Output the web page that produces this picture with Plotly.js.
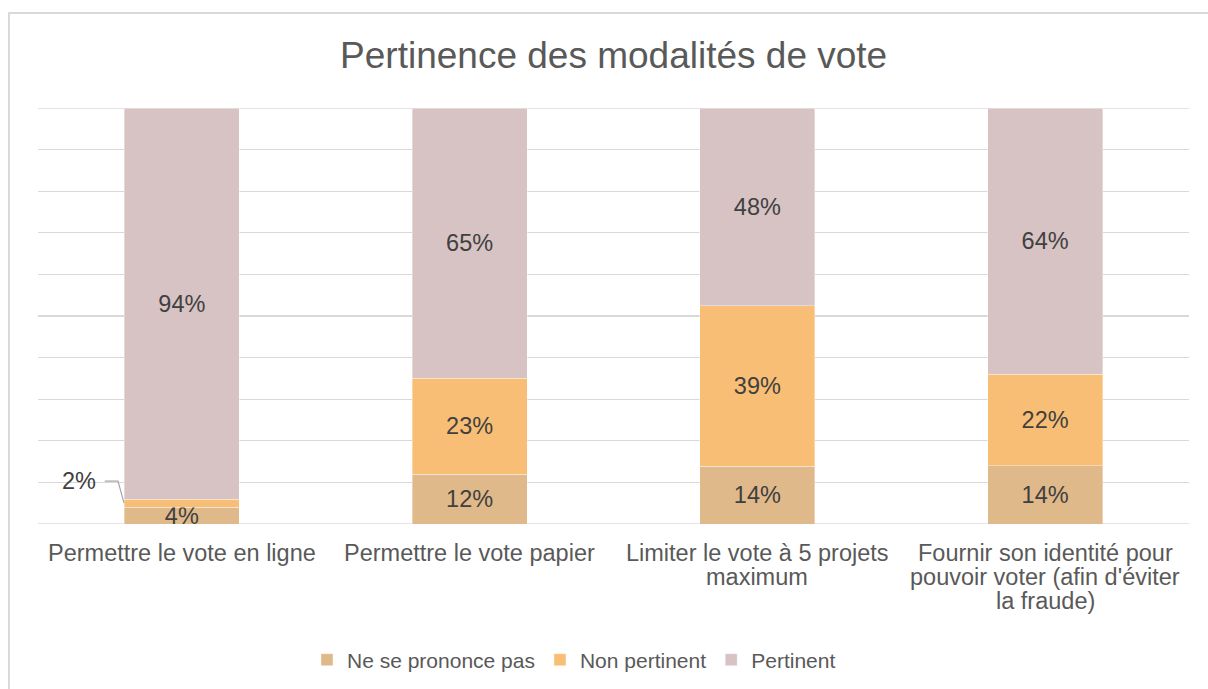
<!DOCTYPE html>
<html>
<head>
<meta charset="utf-8">
<script src="https://cdn.plot.ly/plotly-3.0.1.min.js"></script>
<style>
  html, body { margin: 0; padding: 0; background: #ffffff; }
  #chart { width: 1208px; height: 689px; position: absolute; left: 0; top: 0; }
  #frame { position: absolute; left: 8px; top: 12px; width: 1210px; height: 690px;
           border-top: 2px solid #d9d9d9; border-left: 2px solid #d9d9d9; pointer-events: none; }
</style>
</head>
<body>
<div id="frame"></div>
<div id="chart"></div>
<script>
const categories = [
  "Permettre le vote en ligne",
  "Permettre le vote papier",
  "Limiter le vote à 5 projets<br>maximum",
  "Fournir son identité pour<br>pouvoir voter (afin d'éviter<br>la fraude)"
];
const seriesNames = ["Ne se prononce pas", "Non pertinent", "Pertinent"];
const neSePrononcePas = [4, 12, 14, 14];
const nonPertinent = [2, 23, 39, 22];
const pertinent = [94, 65, 48, 64];
const colors = ["#E0B98A", "#F9BE75", "#D7C3C4"];

const xIdx = categories.map((c, i) => i);
const series = [neSePrononcePas, nonPertinent, pertinent];
const FONT = "Liberation Sans, Arial, sans-serif";

const traces = series.map((vals, s) => ({
  type: "bar",
  name: seriesNames[s],
  x: xIdx,
  y: vals,
  marker: { color: colors[s], line: { color: "rgba(255,255,255,0.6)", width: 0.6 } },
  text: vals.map((v, i) => (s === 1 && i === 0) ? "" : v + "%"),
  texttemplate: "%{text}",
  textposition: "inside",
  insidetextanchor: "middle",
  constraintext: "none",
  textangle: 0,
  textfont: { family: FONT, size: 23.5, color: "#404040" },
  hoverinfo: "skip"
}));

// small segment label (outside with leader line)
const tot0 = neSePrononcePas[0] + nonPertinent[0] + pertinent[0];
const yTarget = (neSePrononcePas[0] + nonPertinent[0] / 2) / tot0 * 100;
const yLabel = yTarget + 5.3;

// category labels, one annotation per line (tighter line spacing like the original)
const catAnnotations = [];
categories.forEach((c, i) => {
  c.split("<br>").forEach((line, k) => {
    catAnnotations.push({
      xref: "x", yref: "paper", x: i, y: 0, xanchor: "center", yanchor: "top",
      yshift: -(14 + k * 24), text: line, showarrow: false,
      font: { size: 23.5, color: "#595959", family: FONT }
    });
  });
});

const layout = {
  width: 1208, height: 689,
  paper_bgcolor: "rgba(0,0,0,0)",
  plot_bgcolor: "rgba(0,0,0,0)",
  margin: { l: 38, r: 19, t: 108, b: 165, autoexpand: false },
  font: { family: FONT, color: "#595959" },
  title: {
    text: "Pertinence des modalités de vote",
    font: { size: 37, color: "#595959", family: FONT },
    x: 0.508, xanchor: "center", y: 1 - 55 / 689, yanchor: "middle"
  },
  barmode: "stack",
  barnorm: "percent",
  bargap: 0.6,
  showlegend: true,
  legend: {
    orientation: "h", traceorder: "normal",
    x: 0.2337, xanchor: "left",
    yref: "container", y: 1 - 660 / 689, yanchor: "middle",
    font: { size: 21, color: "#595959" },
    itemwidth: 30
  },
  xaxis: {
    type: "linear",
    range: [-0.5, 3.5],
    tickvals: xIdx,
    showticklabels: false,
    showgrid: false, zeroline: false, showline: false,
    ticks: "",
    fixedrange: true
  },
  yaxis: {
    range: [0, 100],
    dtick: 10,
    showgrid: true, gridcolor: "#d9d9d9", gridwidth: 1.3,
    zeroline: false, showline: false,
    showticklabels: false, ticks: "",
    fixedrange: true
  },
  shapes: [
    { type: "line", xref: "paper", yref: "y", x0: 0, x1: 1, y0: 0, y1: 0, layer: "below",
      line: { color: "#d9d9d9", width: 1.3 } },
    { type: "line", xref: "paper", yref: "y", x0: 0, x1: 1, y0: 100, y1: 100, layer: "below",
      line: { color: "#d9d9d9", width: 1.3 } },
    { type: "path", xref: "x", yref: "y",
      path: `M -0.268 ${yLabel} L -0.222 ${yLabel} L -0.201 ${yTarget}`,
      line: { color: "#a6a6a6", width: 1.2 } }
  ],
  annotations: [
    { xref: "x", yref: "y", x: -0.292, y: yLabel, xanchor: "right", yanchor: "middle",
      text: nonPertinent[0] + "%", showarrow: false,
      font: { size: 23.5, color: "#404040" } }
  ].concat(catAnnotations)
};

Plotly.newPlot("chart", traces, layout, { displayModeBar: false, staticPlot: true });
</script>
</body>
</html>
